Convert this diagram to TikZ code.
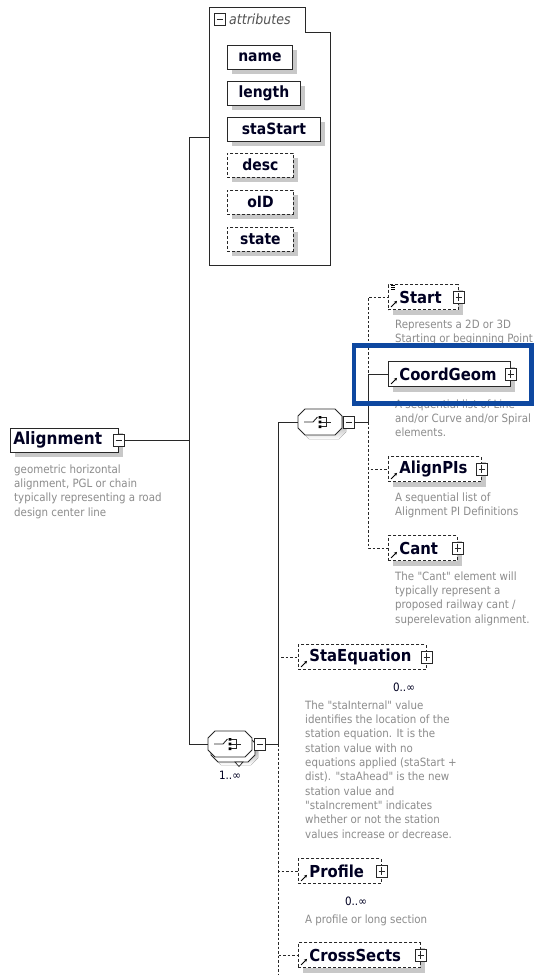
\documentclass[tikz,border=0pt]{standalone}
\usepackage{fontspec}
\setmainfont{DejaVu Sans Condensed}[Ligatures=TeXOff]
\usetikzlibrary{arrows.meta,shadows,calc}
\definecolor{shade}{RGB}{200,200,200}
\definecolor{note}{RGB}{140,140,140}
\definecolor{ink}{RGB}{0,0,34}
\definecolor{edge}{RGB}{40,40,40}
\definecolor{frameblue}{RGB}{14,72,160}
\pgfdeclarelayer{back}
\pgfsetlayers{back,main}

\tikzset{
  shadowed/.style={drop shadow={shadow xshift=5pt, shadow yshift=-5pt, fill=shade, opacity=1}},
  elem/.style={draw=edge, line width=0.8pt, fill=white, minimum height=25pt,
    inner xsep=11pt, inner ysep=0pt, anchor=west, align=left, text=ink,
    font=\bfseries\fontsize{16.5}{18}\selectfont},
  optional/.style={dash pattern=on 3pt off 2pt},
  attr/.style={draw=edge, line width=0.9pt, fill=white, minimum height=24pt,
    inner sep=0pt, anchor=west, text=ink, shadowed,
    font=\bfseries\fontsize{15.5}{17}\selectfont},
  desc/.style={anchor=north west, align=left, inner sep=0pt, text=note,
    font=\fontsize{11.4}{14.3}\selectfont},
  occurs/.style={inner sep=0pt, text=ink, font=\fontsize{11.5}{13}\selectfont},
  tabtext/.style={anchor=west, inner sep=0pt, text=edge!80,
    font=\itshape\fontsize{14}{16}\selectfont},
  toggle/.style={draw=edge, fill=white, line width=0.6pt, minimum width=11pt,
    minimum height=12pt, inner sep=0pt},
  plusbox/.style={toggle, path picture={
    \draw[edge, line width=0.7pt]
      ([xshift=-3.2pt]path picture bounding box.center) -- ([xshift=3.2pt]path picture bounding box.center)
      ([yshift=-3.6pt]path picture bounding box.center) -- ([yshift=3.6pt]path picture bounding box.center);}},
  minusbox/.style={toggle, path picture={
    \draw[edge, line width=0.7pt]
      ([xshift=-3.2pt]path picture bounding box.center) -- ([xshift=3.2pt]path picture bounding box.center);}},
  wire/.style={draw=edge, line width=0.9pt},
  dotwire/.style={draw=edge, line width=0.9pt, dash pattern=on 2.5pt off 2pt},
  seqholder/.style={minimum width=44pt, minimum height=26pt, inner sep=0pt},
  reflink/.style={draw=black, line width=0.9pt, -{Stealth[length=3pt,width=3.2pt]}},
  seqsym/.pic={
    \fill[shade] (-11,-9) -- (19,-9) -- (26,-2) -- (26,10) -- (19,17) -- (-11,17) -- (-18,10) -- (-18,-2) -- cycle;
    \draw[edge, line width=0.8pt, fill=white] (-15,-13) -- (15,-13) -- (22,-6) -- (22,6) -- (15,13) -- (-15,13) -- (-22,6) -- (-22,-6) -- cycle;
    \draw[edge, line width=0.9pt] (-16,0) -- (-7,0) -- (-2.5,-5);
    \fill[black] (-1.3,-6) rectangle (1.3,-3.4) (-1.3,-1.3) rectangle (1.3,1.3) (-1.3,3.4) rectangle (1.3,6);
    \draw[edge, line width=0.8pt] (1.3,-4.7) -- (6,-4.7) -- (6,4.7) -- (1.3,4.7) (1.3,0) -- (11,0);
  },
  seqmany/.pic={
    \fill[shade] (-9,-5) -- (21,-5) -- (28,2) -- (28,14) -- (21,21) -- (-9,21) -- (-16,14) -- (-16,2) -- cycle;
    \draw[edge, line width=0.8pt, fill=white] (-12,-8) -- (18,-8) -- (25,-1) -- (25,11) -- (18,18) -- (-12,18) -- (-19,11) -- (-19,-1) -- cycle;
    \draw[edge, line width=0.7pt, fill=white] (5,18) -- (13,18) -- (9,22.5) -- cycle;
    \draw[edge, line width=0.8pt, fill=white] (-15,-13) -- (15,-13) -- (22,-6) -- (22,6) -- (15,13) -- (-15,13) -- (-22,6) -- (-22,-6) -- cycle;
    \draw[edge, line width=0.9pt] (-16,0) -- (-7,0) -- (-2.5,-5);
    \fill[black] (-1.3,-6) rectangle (1.3,-3.4) (-1.3,-1.3) rectangle (1.3,1.3) (-1.3,3.4) rectangle (1.3,6);
    \draw[edge, line width=0.8pt] (1.3,-4.7) -- (6,-4.7) -- (6,4.7) -- (1.3,4.7) (1.3,0) -- (11,0);
  }
}

\begin{document}
\begin{tikzpicture}[x=1pt, y=-1pt]
\useasboundingbox (0,0) rectangle (534,975);
\fill[white] (0,0) rectangle (534,975);

% ---------- attribute group ----------
\draw[wire] (209,265) -- (209,7) -- (305,7) -- (305,32) -- (330,32) -- (330,265) -- cycle;
\coordinate (attrport) at (209,137);
\node[minusbox] (attrtoggle) at (220,19) {};
\node[tabtext] (attrlabel) at (229,19) {attributes};

\node[attr, minimum width=65pt] (aname) at (227,57) {name};
\node[attr, minimum width=73pt] (alength) at (227,93) {length};
\node[attr, minimum width=93pt] (astart) at (227,129) {staStart};
\node[attr, optional, minimum width=66pt] (adesc) at (227,165) {desc};
\node[attr, optional, minimum width=66pt] (aoid) at (227,202) {oID};
\node[attr, optional, minimum width=66pt] (astate) at (227,239) {state};

% ---------- root element ----------
\node[elem, shadowed, inner xsep=3pt, text width=102pt, minimum height=24pt,
      font=\bfseries\fontsize{17}{19}\selectfont] (align) at (10,440) {Alignment};
\node[minusbox] (aligntoggle) at (align.east) {};
\node[desc] (aligndesc) at (14,464.5) {geometric horizontal\\alignment, PGL or chain\\typically representing a road\\design center line};

% ---------- compositors ----------
\node[seqholder] (seqA) at (320,422) {};
\pic at (seqA) {seqsym};
\node[minusbox] (seqAtoggle) at (349,422) {};

\node[seqholder] (seqB) at (230,744) {};
\pic at (seqB) {seqmany};
\node[minusbox] (seqBtoggle) at (260,744) {};
\node[occurs] (seqBocc) at (230,775) {1..\char"221E};

% ---------- child elements of the inner sequence ----------
\node[elem, optional, shadowed, text width=48pt] (start) at (388,297) {Start};
\node[plusbox] (starttoggle) at (start.east) {};
\draw[black, line width=0.6pt] (391,285) -- (395,285) (391,287) -- (395,287) (391,289) -- (395,289);
\node[desc] (startdesc) at (395,319.5) {Represents a 2D or 3D\\Starting or beginning Point};

\node[elem, shadowed, text width=100pt] (coord) at (388,374) {CoordGeom};
\node[plusbox] (coordtoggle) at (coord.east) {};
\node[desc] (coorddesc) at (395,399.5) {A sequential list of Line\\and/or Curve and/or Spiral\\elements.};

\node[elem, optional, shadowed, text width=71pt] (pis) at (388,469) {AlignPIs};
\node[plusbox] (pistoggle) at (pis.east) {};
\node[desc] (pisdesc) at (395,492.5) {A sequential list of\\Alignment PI Definitions};

\node[elem, optional, shadowed, text width=47pt] (cant) at (388,548) {Cant};
\node[plusbox] (canttoggle) at (cant.east) {};
\node[desc] (cantdesc) at (395,571.5) {The "Cant" element will\\typically represent a\\proposed railway cant /\\superelevation alignment.};

% ---------- child elements of the outer sequence ----------
\node[elem, optional, text width=106pt] (staeq) at (298,657) {StaEquation};
\node[plusbox] (staeqtoggle) at (staeq.east) {};
\node[occurs] (staeqocc) at (404,687) {0..\char"221E};
\node[desc] (staeqdesc) at (305,700.5) {The "staInternal" value\\identifies the location of the\\station equation. It is the\\station value with no\\equations applied (staStart +\\dist). "staAhead" is the new\\station value and\\"staIncrement" indicates\\whether or not the station\\values increase or decrease.};

\node[elem, optional, text width=61pt] (profile) at (298,871) {Profile};
\node[plusbox] (profiletoggle) at (profile.east) {};
\node[occurs] (profileocc) at (356,901) {0..\char"221E};
\node[desc] (profiledesc) at (305,914.5) {A profile or long section};

\node[elem, optional, shadowed, text width=100pt] (cross) at (298,955) {CrossSects};
\node[plusbox] (crosstoggle) at (cross.east) {};

% stacked outlines behind the repeatable elements
\begin{pgfonlayer}{back}
  \foreach \n in {staeq,profile}{
    \fill[shade] ($(\n.north west)+(9,9)$) rectangle ($(\n.south east)+(9,9)$);
    \draw[draw=edge, line width=0.8pt, optional, fill=white]
      ($(\n.north west)+(5,5)$) rectangle ($(\n.south east)+(5,5)$);
  }
\end{pgfonlayer}

% reference markers in the lower left corner of each element
\foreach \n in {start,coord,pis,cant,staeq,profile,cross}{
  \draw[reflink] ($(\n.south west)+(3,-3)$) -- ($(\n.south west)+(9,-9)$);
}

% ---------- connectors ----------
\coordinate (spineTop) at (189,137);
\coordinate (spineBot) at (189,744);
\coordinate (busA) at (368,422);
\coordinate (busB) at (278,744);
\coordinate (busEnd) at (278,976);

\draw[wire] (attrport) -- (spineTop) -- (spineBot) -- (seqB.west);
\draw[wire] (aligntoggle.east) -- (aligntoggle.east -| spineTop);

\draw[dotwire] (busA) |- (start.west);
\draw[dotwire] (busA) |- (pis.west);
\draw[dotwire] (busA) |- (cant.west);
\draw[wire] (seqAtoggle.east) -- (busA) |- (coord.west);

\draw[dotwire] (busB) |- (staeq.west);
\draw[dotwire] (busB) |- (profile.west);
\draw[dotwire] (busB) |- (cross.west);
\draw[dotwire] (busB) -- (busEnd);
\draw[wire] (seqBtoggle.east) -- (busB) |- (seqA.west);

% ---------- highlight frame ----------
\draw[frameblue, line width=4.5pt] (354,345.5) rectangle (531.5,403.5);
\end{tikzpicture}
\end{document}
